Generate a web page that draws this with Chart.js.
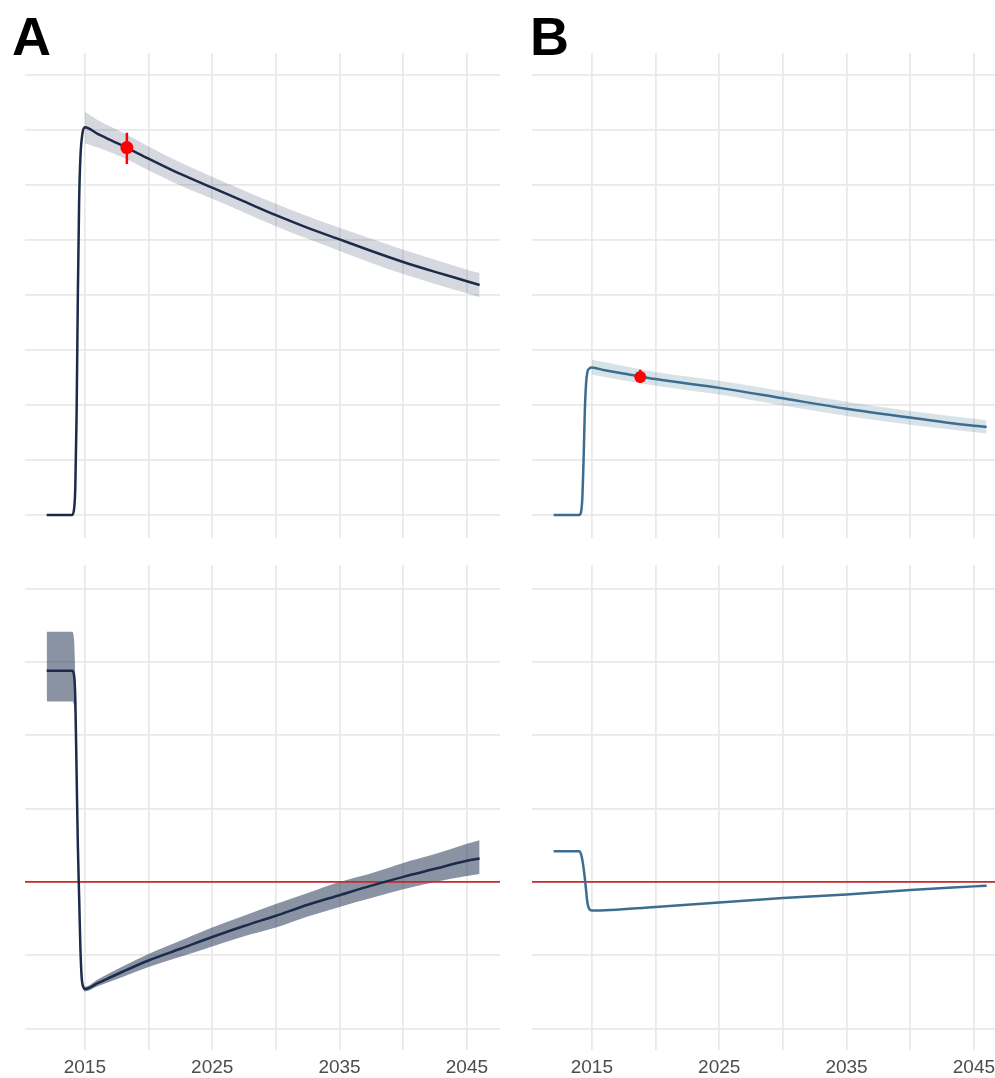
<!DOCTYPE html>
<html lang="en">
<head>
    <meta charset="UTF-8">
    <title>Panels A and B</title>
    <style>
        body {
            margin: 0;
            padding: 0;
            background-color: white;
            font-family: "Liberation Sans", Arial, sans-serif;
        }
        .page {
            position: relative;
            width: 995px;
            height: 1078px;
            overflow: hidden;
        }
        .page canvas {
            position: absolute;
        }
        .tag {
            position: absolute;
            font-size: 54px;
            font-weight: bold;
            line-height: 1;
            color: black;
        }
    </style>
    <script src="https://cdn.jsdelivr.net/npm/chart.js"></script>
</head>
<body>
<div class="page">
    <div class="tag" style="left:12px; top:9px;">A</div>
    <div class="tag" style="left:530px; top:9px;">B</div>
    <canvas id="topA" width="475" height="485" style="left:25px; top:53px;"></canvas>
    <canvas id="botA" width="475" height="513" style="left:25px; top:565px;"></canvas>
    <canvas id="topB" width="475" height="485" style="left:532px; top:53px;"></canvas>
    <canvas id="botB" width="475" height="513" style="left:532px; top:565px;"></canvas>
</div>
<script>
    // axes
    const xTicks = [2015, 2020, 2025, 2030, 2035, 2040, 2045];
    const xLabels = [2015, 2025, 2035, 2045];
    const yTicksTop = [0, 1, 2, 3, 4, 5, 6, 7, 8];
    const yTicksBottom = [-2, -1, 0, 1, 2, 3, 4];
    const refLevel = 0;

    // panel A, top
    const yearsTopA = [2012, 2013, 2014, 2014.15, 2014.25, 2014.35, 2014.45, 2014.55, 2014.65, 2014.8, 2015,
        2016, 2018, 2020, 2022.5, 2025, 2027.5, 2030, 2032.5, 2035, 2037.5, 2040, 2042.5, 2045, 2046];
    const valuesTopA = [0, 0, 0, 0.1, 0.5, 1.8, 4.0, 5.7, 6.5, 6.92, 7.05,
        6.93, 6.71, 6.48, 6.2, 5.95, 5.7, 5.45, 5.22, 5.01, 4.8, 4.6, 4.42, 4.25, 4.18];
    const bandYearsTopA = [2015, 2016, 2018, 2020, 2022.5, 2025, 2027.5, 2030, 2032.5, 2035, 2037.5, 2040, 2042.5, 2045, 2046];
    const bandHighTopA = [7.33, 7.18, 6.95, 6.7, 6.41, 6.15, 5.9, 5.66, 5.43, 5.22, 5.02, 4.82, 4.64, 4.46, 4.40];
    const bandLowTopA = [6.76, 6.68, 6.5, 6.27, 5.99, 5.75, 5.5, 5.25, 5.02, 4.8, 4.58, 4.38, 4.2, 4.03, 3.96];
    const obsTopA = { year: 2018.3, value: 6.68, low: 6.38, high: 6.95 };

    // panel A, bottom
    const yearsBotA = [2012, 2013, 2014, 2014.15, 2014.25, 2014.35, 2014.45, 2014.55, 2014.65, 2014.75, 2014.9, 2015,
        2016, 2018, 2020, 2022.5, 2025, 2027.5, 2030, 2032.5, 2035, 2037.5, 2040, 2042.5, 2045, 2046];
    const valuesBotA = [2.88, 2.88, 2.88, 2.82, 2.5, 1.5, 0.5, -0.2, -0.9, -1.3, -1.44, -1.46,
        -1.38, -1.22, -1.07, -0.91, -0.75, -0.6, -0.46, -0.31, -0.18, -0.05, 0.07, 0.18, 0.29, 0.32];
    const bandHighBotA = [3.41, 3.41, 3.41, 3.3, 2.75, 1.6, 0.6, -0.12, -0.84, -1.26, -1.41, -1.43,
        -1.33, -1.15, -0.98, -0.8, -0.62, -0.46, -0.3, -0.15, 0.0, 0.12, 0.26, 0.38, 0.52, 0.57];
    const bandLowBotA = [2.46, 2.46, 2.46, 2.4, 2.2, 1.4, 0.4, -0.28, -0.96, -1.34, -1.47, -1.49,
        -1.42, -1.29, -1.16, -1.02, -0.88, -0.74, -0.62, -0.47, -0.34, -0.22, -0.1, 0.0, 0.08, 0.11];

    // panel B, top
    const yearsTopB = [2012, 2013, 2014, 2014.15, 2014.25, 2014.35, 2014.45, 2014.55, 2014.65, 2014.8, 2015,
        2016, 2018, 2020, 2025, 2030, 2035, 2040, 2045, 2046];
    const valuesTopB = [0, 0, 0, 0.05, 0.3, 1.0, 1.9, 2.4, 2.6, 2.66, 2.68,
        2.63, 2.55, 2.47, 2.31, 2.12, 1.93, 1.77, 1.62, 1.6];
    const bandYearsTopB = [2015, 2020, 2025, 2030, 2035, 2040, 2046];
    const bandHighTopB = [2.82, 2.6, 2.44, 2.25, 2.06, 1.89, 1.72];
    const bandLowTopB = [2.55, 2.35, 2.19, 1.99, 1.8, 1.64, 1.48];
    const obsTopB = { year: 2018.8, value: 2.51, low: 2.4, high: 2.64 };

    // panel B, bottom
    const yearsBotB = [2012, 2013, 2014, 2014.15, 2014.3, 2014.45, 2014.55, 2014.65, 2014.8, 2015,
        2020, 2025, 2030, 2035, 2040, 2045, 2046];
    const valuesBotB = [0.42, 0.42, 0.42, 0.38, 0.25, 0.05, -0.12, -0.28, -0.37, -0.39,
        -0.34, -0.28, -0.22, -0.17, -0.11, -0.06, -0.05];

    const navy = '#1c2b4a';
    const steel = '#3c6d90';
    const gridColor = '#e9e9e9';
    const xMin = 2010.3, xMax = 2047.6;

    function pts(xs, ys) {
        return xs.map((x, i) => ({ x: x, y: ys[i] }));
    }

    function lineSet(data, color, width, order) {
        return { data: data, borderColor: color, borderWidth: width, pointRadius: 0,
            cubicInterpolationMode: 'monotone', fill: false, order: order };
    }

    function bandSets(xs, high, low, color) {
        return [
            { data: pts(xs, high), borderWidth: 0, pointRadius: 0, backgroundColor: color, fill: '+1',
              cubicInterpolationMode: 'monotone', order: 5 },
            { data: pts(xs, low), borderWidth: 0, pointRadius: 0, fill: false,
              cubicInterpolationMode: 'monotone', order: 6 }
        ];
    }

    function obsSets(obs, size) {
        return [
            lineSet([{ x: obs.year, y: obs.low }, { x: obs.year, y: obs.high }], '#ff0000', 2.5, 1),
            { data: [{ x: obs.year, y: obs.value }], showLine: false, pointRadius: size,
              pointBackgroundColor: '#ff0000', pointBorderWidth: 0, order: 0 }
        ];
    }

    function refSet() {
        return lineSet([{ x: xMin, y: refLevel }, { x: xMax, y: refLevel }], '#cc2a2a', 1.8, 3);
    }

    function draw(id, datasets, yMin, yMax, yTicks, showLabels) {
        new Chart(document.getElementById(id), {
            type: 'line',
            data: { datasets: datasets },
            options: {
                responsive: false,
                animation: false,
                layout: { padding: 0, autoPadding: false },
                plugins: { legend: { display: false }, tooltip: { enabled: false } },
                scales: {
                    x: {
                        type: 'linear', min: xMin, max: xMax,
                        afterBuildTicks: s => { s.ticks = xTicks.map(v => ({ value: v })); },
                        afterFit: s => { s.height = showLabels ? 28 : 0; },
                        grid: { color: gridColor, lineWidth: 1.7, drawTicks: false },
                        border: { display: false },
                        ticks: {
                            display: showLabels, padding: 6, color: '#4d4d4d', maxRotation: 0,
                            font: { family: '"Liberation Sans", Arial, sans-serif', size: 19 },
                            callback: v => xLabels.includes(v) ? String(v) : ''
                        }
                    },
                    y: {
                        min: yMin, max: yMax,
                        afterBuildTicks: s => { s.ticks = yTicks.map(v => ({ value: v })); },
                        afterFit: s => { s.width = 0; },
                        grid: { color: gridColor, lineWidth: 1.7, drawTicks: false },
                        border: { display: false },
                        ticks: { display: false }
                    }
                }
            }
        });
    }

    draw('topA', [
        ...obsSets(obsTopA, 6.5),
        lineSet(pts(yearsTopA, valuesTopA), navy, 2.5, 2),
        ...bandSets(bandYearsTopA, bandHighTopA, bandLowTopA, 'rgba(31,47,79,0.19)')
    ], -0.42, 8.4, yTicksTop, false);

    draw('botA', [
        lineSet(pts(yearsBotA, valuesBotA), navy, 2.5, 2),
        refSet(),
        ...bandSets(yearsBotA, bandHighBotA, bandLowBotA, 'rgba(31,47,79,0.52)')
    ], -2.29, 4.32, yTicksBottom, true);

    draw('topB', [
        ...obsSets(obsTopB, 6),
        lineSet(pts(yearsTopB, valuesTopB), steel, 2.5, 2),
        ...bandSets(bandYearsTopB, bandHighTopB, bandLowTopB, 'rgba(60,110,145,0.2)')
    ], -0.42, 8.4, yTicksTop, false);

    draw('botB', [
        lineSet(pts(yearsBotB, valuesBotB), steel, 2.5, 2),
        refSet()
    ], -2.29, 4.32, yTicksBottom, true);
</script>
</body>
</html>
